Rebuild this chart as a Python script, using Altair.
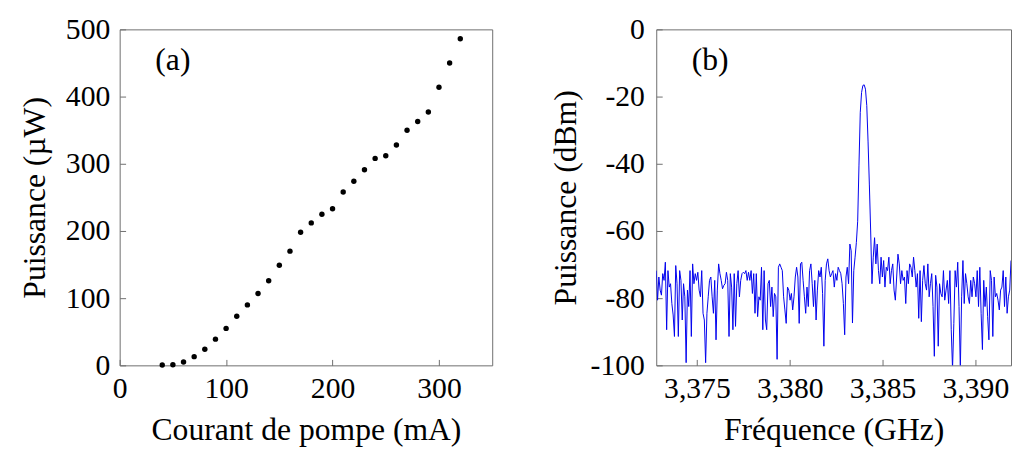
import altair as alt
import pandas as pd

FONT = "Liberation Serif"

# ---- panel (a): output power vs pump current ----
current_mA = [40, 50, 60, 70, 80, 90, 100, 110, 120, 130, 140, 150, 160, 170, 180,
              190, 200, 210, 220, 230, 240, 250, 260, 270, 280, 290, 300, 310, 320]
power_uW = [0.5, 1, 5, 13, 24, 39, 55, 73, 90, 107, 126, 149, 170, 198, 212,
            225, 233, 258, 274, 291, 308, 312, 328, 350, 363, 377, 414, 450, 486]

# ---- panel (b): RF spectrum (sweep grid start / step in GHz, values in dBm) ----
FREQ_START = 3.37281
FREQ_STEP = 0.00007
spectrum_dBm = [
    -71.8, -80.6, -73.7, -77.6, -79.1, -72.7, -74.7, -69.3, -89.4, -71.8,
    -76.7, -75.7, -81.6, -85.0, -91.4, -70.3, -75.7, -91.4, -71.8, -74.7,
    -86.5, -75.7, -79.6, -99.2, -77.6, -82.5, -71.8, -91.4, -69.8, -75.7,
    -72.7, -74.7, -72.3, -77.6, -79.6, -71.8, -84.5, -86.5, -99.2, -84.5,
    -79.6, -74.7, -73.7, -79.6, -84.5, -74.7, -92.4, -77.6, -69.8, -72.7,
    -74.7, -77.2, -76.2, -75.7, -72.3, -74.7, -91.4, -72.7, -76.7, -89.4,
    -72.7, -88.4, -75.7, -71.8, -79.6, -74.7, -72.7, -72.3, -72.7,
    -71.8, -74.7, -72.3, -74.7, -71.8, -78.6, -72.7, -84.5, -72.7, -85.5,
    -79.6, -80.6, -70.8, -89.4, -71.8, -86.5, -89.4, -75.7, -74.7, -82.5,
    -76.7, -85.5, -78.6, -79.6, -98.2, -70.8, -69.8, -70.8, -71.8, -79.6,
    -83.5, -87.5, -76.7, -77.6, -80.6, -78.6, -83.5, -79.6, -73.7, -70.8,
    -73.7, -87.5, -69.8, -69.3, -74.7, -79.6, -84.5, -76.7, -82.5, -71.8,
    -69.8, -75.7, -82.5, -74.7, -86.5, -77.6, -71.8, -73.7, -70.8, -78.6,
    -94.3, -74.7, -69.8, -68.3, -71.8, -73.7,
    -72.7, -71.8, -76.7, -72.7, -74.7, -70.8, -71.8, -72.7, -75.7, -81.6,
    -90.9, -73.7, -70.8, -75.7, -63.9, -65.9, -87.4, -71.8, -67.8, -63.4,
    -57.1, -40.4, -24.7, -18.8, -16.7, -16.5, -17.8, -22.7, -33.5, -46.3,
    -60.0, -75.7, -67.8, -62.0, -69.8, -63.9, -71.8, -75.7, -67.8, -73.7,
    -68.8, -76.7, -70.8, -71.8, -67.8, -75.7, -71.8, -69.8, -77.6, -80.6,
    -73.7, -66.9, -69.8, -75.7, -71.8, -74.7, -73.7, -81.6, -71.8, -75.7,
    -69.8, -70.8, -73.7, -67.8, -71.8, -76.7, -72.7,
    -86.0, -71.8, -87.0, -74.7, -70.3, -75.7, -77.6, -69.8, -79.6, -75.7,
    -72.7, -82.5, -97.3, -73.2, -76.7, -94.3, -75.7, -78.6, -79.6, -71.8,
    -80.6, -77.6, -74.7, -81.6, -71.8, -89.4, -101.0, -87.5, -71.8, -76.7,
    -69.3, -82.5, -101.0, -79.6, -68.8, -81.6, -72.7, -75.7, -79.6, -81.6,
    -74.7, -79.6, -73.7, -75.7, -79.6, -71.8, -82.5, -70.8, -84.5, -95.3,
    -74.7, -82.5, -76.7, -85.5, -92.4, -71.8, -74.7, -91.4, -73.7, -79.6,
    -78.6, -80.6, -83.5, -77.6, -76.7, -71.8, -82.5, -73.7, -84.5, -79.6,
    -77.6, -68.8,
]

left_x_ticks = [0, 100, 200, 300]
left_y_ticks = [0, 100, 200, 300, 400, 500]
right_x_ticks = [3.375, 3.380, 3.385, 3.390]
right_y_ticks = [-100, -80, -60, -40, -20, 0]
left_x_domain = [0, 350]
left_y_domain = [0, 500]
right_x_domain = [3.37281, 3.39192]
right_y_domain = [-100, 0]

panel_labels = ["(a)", "(b)"]
label_a_pos = [50, 454]          # mA, µW
label_b_pos = [3.37571, -9.1]    # GHz, dBm

pts = pd.DataFrame({"I": current_mA, "P": power_uW})
spec = pd.DataFrame({
    "f": [round(FREQ_START + i * FREQ_STEP, 6) for i in range(len(spectrum_dBm))],
    "dBm": spectrum_dBm,
})

W1, W2, H = 377, 359, 340
FRAME = "#6e6e6e"

def axis(values, title, label_pad, title_pad, **kw):
    return alt.Axis(
        values=values, title=title, grid=False, domain=False,
        ticks=True, tickSize=6, tickColor=FRAME, tickWidth=1, offset=-6,
        labelPadding=label_pad, labelFont=FONT, labelFontSize=30, labelColor="black",
        titleFont=FONT, titleFontSize=32, titleFontWeight="normal", titleColor="black",
        titlePadding=title_pad, labelOverlap=False, labelFlush=False, **kw,
    )

xa = alt.Scale(domain=left_x_domain, nice=False, zero=False)
ya = alt.Scale(domain=left_y_domain, nice=False, zero=False)

left_pts = alt.Chart(pts).mark_circle(size=30, color="black", opacity=1).encode(
    x=alt.X("I:Q", scale=xa, axis=axis(left_x_ticks, "Courant de pompe (mA)", 9, 11)),
    y=alt.Y("P:Q", scale=ya, axis=axis(left_y_ticks, "Puissance (µW)", 10, 14)),
)
left_lab = alt.Chart(pd.DataFrame({"x": [label_a_pos[0]], "y": [label_a_pos[1]], "t": [panel_labels[0]]})).mark_text(
    font=FONT, fontSize=32, color="black", align="center", baseline="middle"
).encode(x=alt.X("x:Q", scale=xa), y=alt.Y("y:Q", scale=ya), text="t:N")

left = alt.layer(left_pts, left_lab).properties(width=W1, height=H)

xb = alt.Scale(domain=right_x_domain, nice=False, zero=False)
yb = alt.Scale(domain=right_y_domain, nice=False, zero=False)

right_line = alt.Chart(spec).mark_line(color="#0000ee", strokeWidth=1, clip=True).encode(
    x=alt.X("f:Q", scale=xb, axis=axis(right_x_ticks, "Fréquence (GHz)", 9, 11,
                                       labelExpr="replace(format(datum.value, '.3f'), '.', ',')")),
    y=alt.Y("dBm:Q", scale=yb, axis=axis(right_y_ticks, "Puissance (dBm)", 12, 8,
                                         labelExpr="'' + datum.value")),
)
right_lab = alt.Chart(pd.DataFrame({"x": [label_b_pos[0]], "y": [label_b_pos[1]], "t": [panel_labels[1]]})).mark_text(
    font=FONT, fontSize=32, color="black", align="center", baseline="middle"
).encode(x=alt.X("x:Q", scale=xb), y=alt.Y("y:Q", scale=yb), text="t:N")

right = alt.layer(right_line, right_lab).properties(width=W2, height=H)

chart = alt.hconcat(left, right, spacing=56).properties(
    padding={"top": 3, "left": 10, "right": 0, "bottom": 0}
).configure_view(stroke=FRAME, strokeWidth=1)

chart.save("out.html", embed_options={"renderer": "svg", "actions": False})
